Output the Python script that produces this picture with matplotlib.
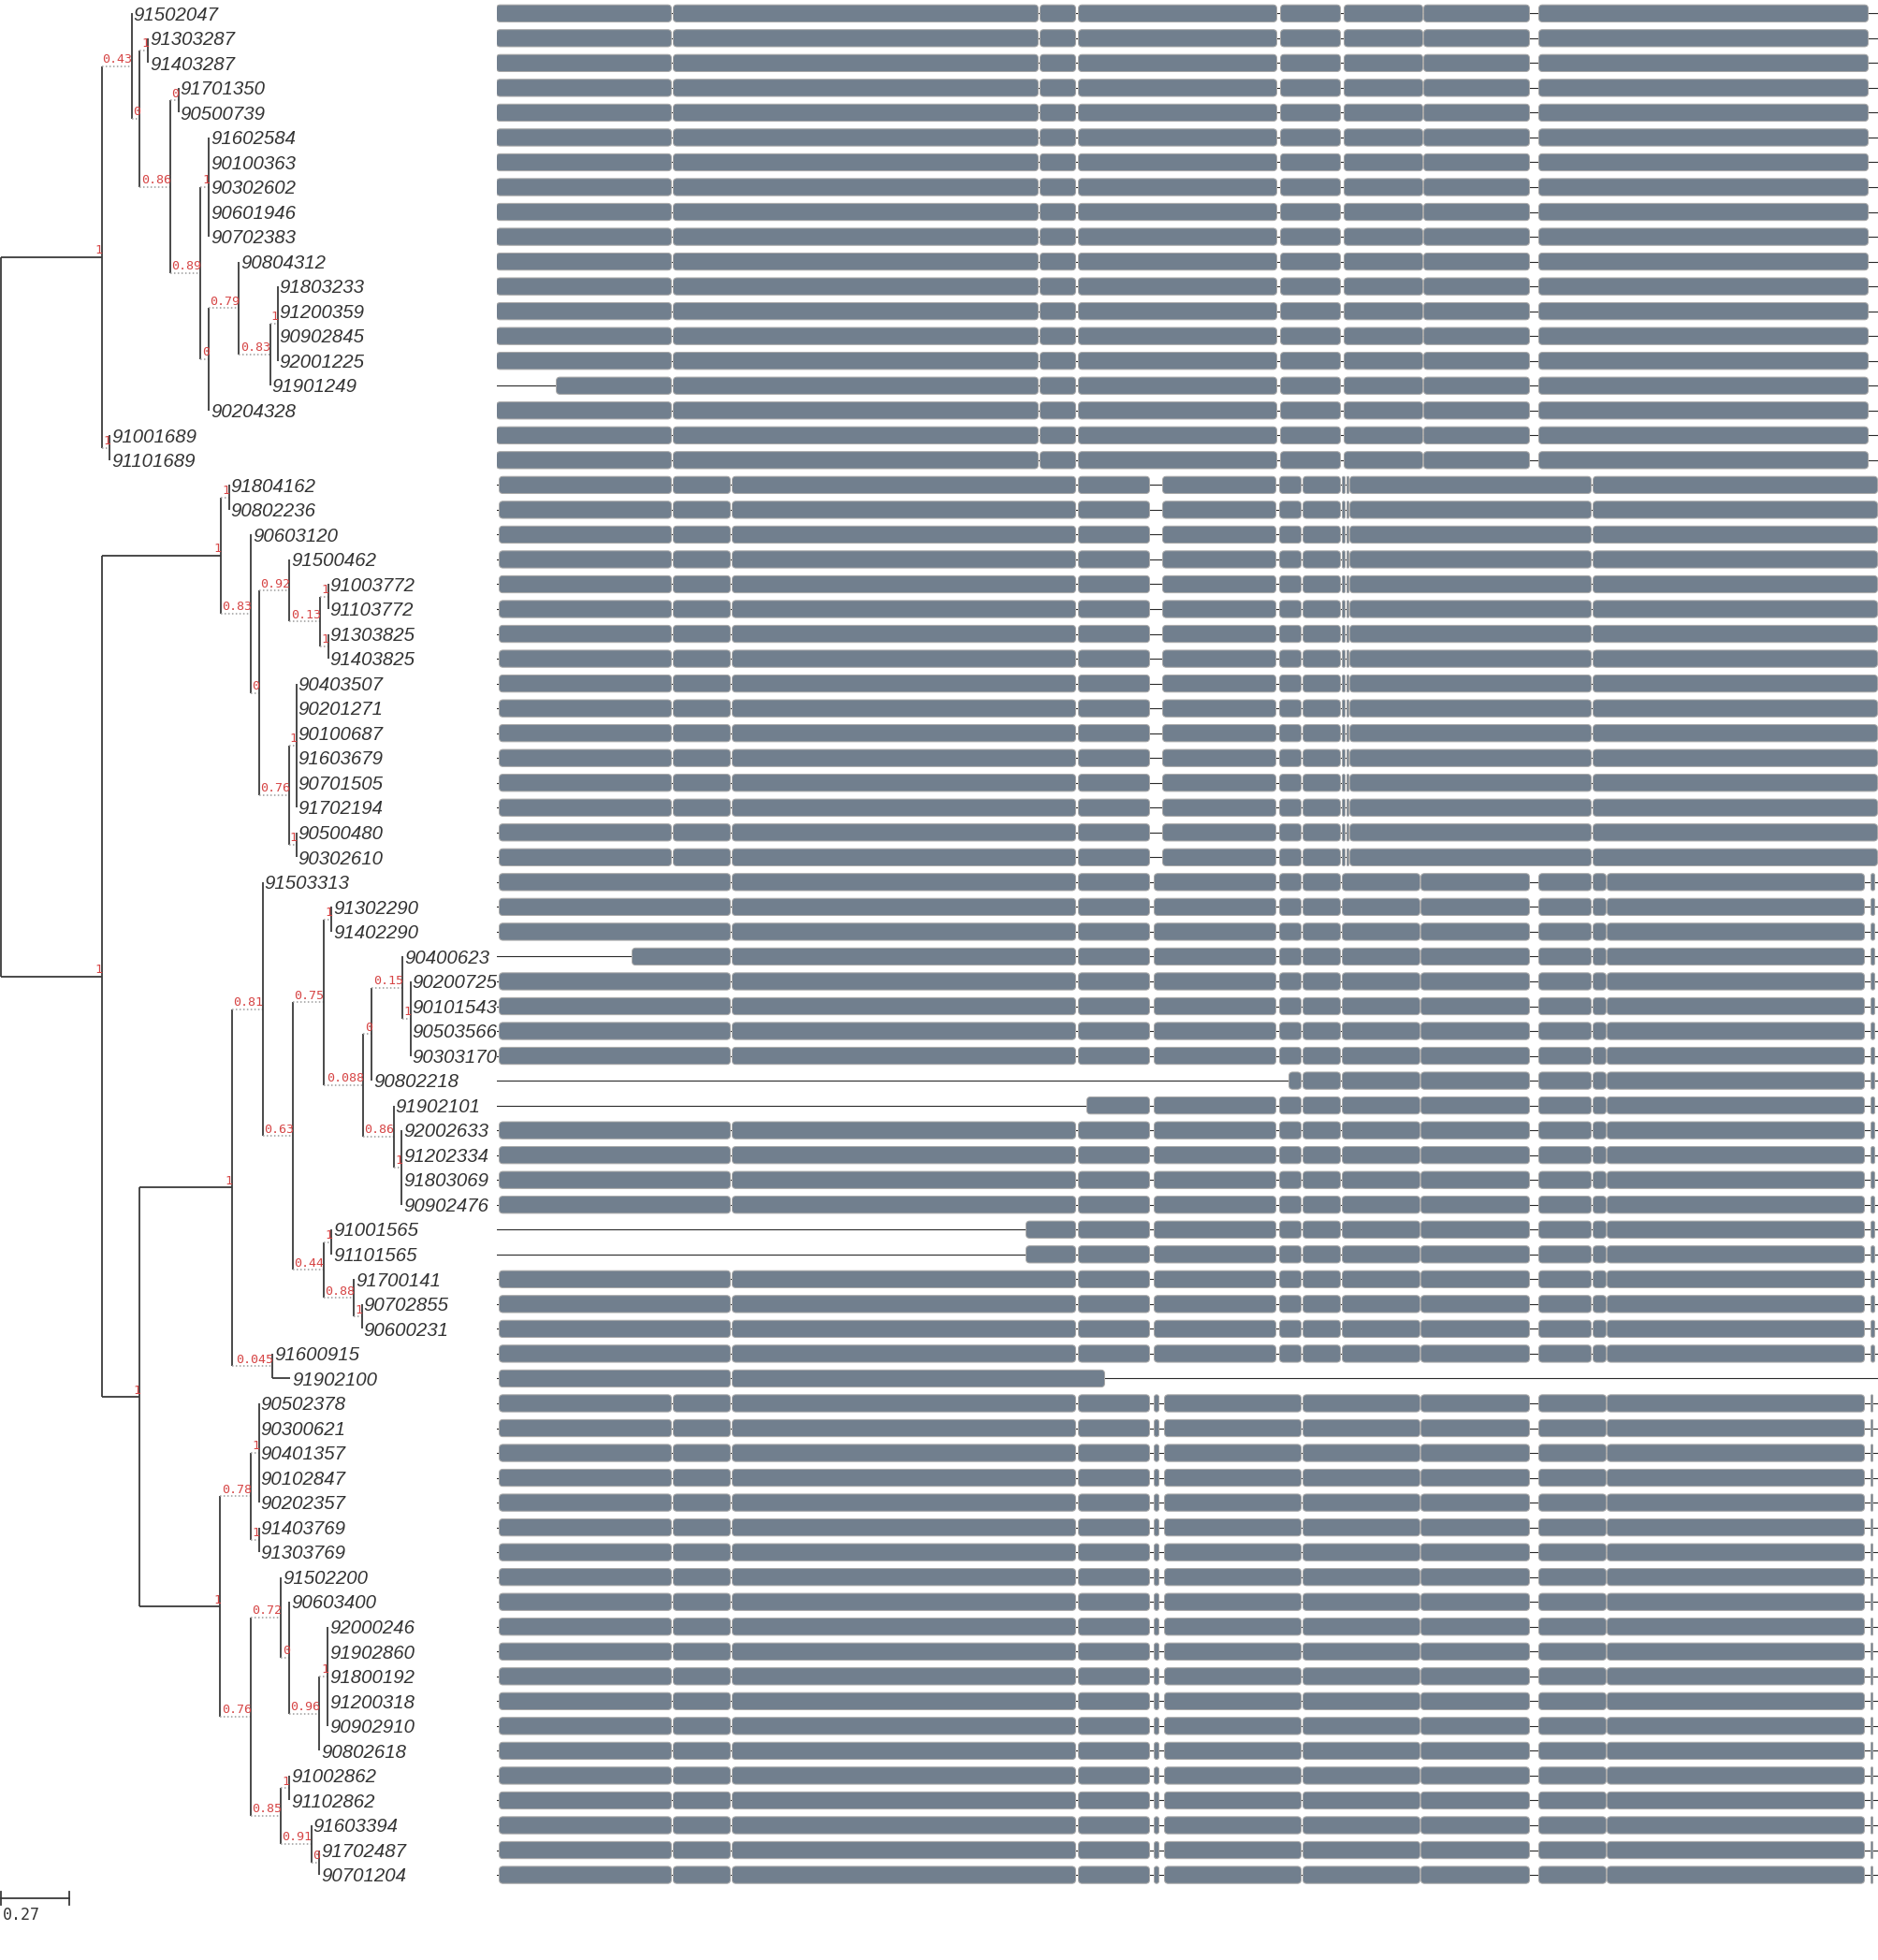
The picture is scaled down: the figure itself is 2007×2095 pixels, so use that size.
import matplotlib
matplotlib.use("Agg")
import matplotlib.pyplot as plt
from matplotlib.patches import FancyBboxPatch

# --- TREE DATA: one newick per clade, node label = support ---
clade_a = ("((91502047:0,((91303287:0,91403287:0)1:0.034,((91701350:0,90500739:0)0:0.032,"
           "((91602584:0,90100363:0,90302602:0,90601946:0,90702383:0)1:0.033,"
           "((90804312:0,((91803233:0,91200359:0,90902845:0,92001225:0)1:0.030,91901249:0)0.83:0.122)0.79:0.119,"
           "90204328:0)0:0.033)0.89:0.119)0.86:0.120)0:0.032)0.43:0.118,(91001689:0,91101689:0)1:0.032)1")
clade_b = ("((91804162:0,90802236:0)1:0.032,(90603120:0,((91500462:0,((91003772:0,91103772:0)1:0.032,"
           "(91303825:0,91403825:0)1:0.032)0.13:0.122)0.92:0.119,((90403507:0,90201271:0,90100687:0,"
           "91603679:0,90701505:0,91702194:0)1:0.029,(90500480:0,90302610:0)1:0.029)0.76:0.119)0:0.032)0.83:0.118)1")
clade_c = ("((91503313:0,(((91302290:0,91402290:0)1:0.032,(((90400623:0,(90200725:0,90101543:0,90503566:0,"
           "90303170:0)1:0.032)0.15:0.121,90802218:0)0:0.032,(91902101:0,(92002633:0,91202334:0,91803069:0,"
           "90902476:0)1:0.032)0.86:0.119)0.088:0.158)0.75:0.118,((91001565:0,91101565:0)1:0.032,"
           "(91700141:0,(90702855:0,90600231:0)1:0.031)0.88:0.120)0.44:0.118)0.63:0.121)0.81:0.120,"
           "(91600915:0,91902100:0.070)0.045:0.159)1")
clade_d = ("(((90502378:0,90300621:0,90401357:0,90102847:0,90202357:0)1:0.032,(91403769:0,91303769:0)1:0.032)0.78:0.120,"
           "((91502200:0,(90603400:0,((92000246:0,91902860:0,91800192:0,91200318:0,90902910:0)1:0.032,"
           "90802618:0)0.96:0.120)0:0.032)0.72:0.119,((91002862:0,91102862:0)1:0.032,(91603394:0,"
           "(91702487:0,90701204:0)0:0.032)0.91:0.120)0.85:0.119)0.76:0.120)1")

# backbone stems (solid branches)
stem_len = {"A": 0.396, "BCD": 0.396, "B": 0.469, "CD": 0.150, "C": 0.364, "D": 0.317}
stem_support = {"BCD": "1", "CD": "1"}
scale_bar = 0.27

# --- ALIGNMENT DATA (block start/end along the alignment) ---
align_len = 1476
blocks_a = [(0, 187), (189, 579), (581, 619), (622, 834), (838, 902), (906, 990), (991, 1104), (1114, 1466)]
blocks_b = [(3, 187), (189, 250), (252, 619), (622, 698), (712, 833), (837, 860), (862, 902),
            (904, 907), (909, 911), (912, 1170), (1172, 1476)]
blocks_c = [(3, 250), (252, 619), (622, 698), (703, 833), (837, 860), (862, 902), (904, 987),
            (988, 1104), (1114, 1170), (1172, 1186), (1187, 1462), (1469, 1473)]
blocks_d = [(3, 187), (189, 250), (252, 619), (622, 698), (703, 708), (714, 860), (862, 987),
            (988, 1104), (1114, 1186), (1187, 1462), (1469, 1471)]
group_blocks = [blocks_a, blocks_b, blocks_c, blocks_d]
special_blocks = {
    "91901249": [(64, 187)] + blocks_a[1:],
    "90400623": [(145, 250)] + blocks_c[1:],
    "90802218": [(847, 860)] + blocks_c[5:],
    "91902101": [(631, 698)] + blocks_c[3:],
    "91001565": [(566, 619)] + blocks_c[2:],
    "91101565": [(566, 619)] + blocks_c[2:],
    "91902100": [(3, 250), (252, 650)],
}

# --- LAYOUT (pixels) ---
W, H = 2007, 2095
row0, pitch = 14.3, 26.53
px_per_unit = 271.5
tree_right = 530.5
line_col = "#3a3a3a"
red = "#d64545"


def parse_newick(s):
    pos = 0

    def read():
        nonlocal pos
        kids = []
        if s[pos] == "(":
            pos += 1
            while True:
                kids.append(read())
                ch = s[pos]
                pos += 1
                if ch == ")":
                    break
        start = pos
        while pos < len(s) and s[pos] not in ",():":
            pos += 1
        name = s[start:pos]
        length = 0.0
        if pos < len(s) and s[pos] == ":":
            pos += 1
            start = pos
            while pos < len(s) and s[pos] not in ",()":
                pos += 1
            length = float(s[start:pos])
        return {"name": name, "len": length, "kids": kids, "solid": not kids}

    return read()


def stem(node, key):
    node["len"] = stem_len[key]
    node["solid"] = True
    return node


A = stem(parse_newick(clade_a), "A")
B = stem(parse_newick(clade_b), "B")
C = stem(parse_newick(clade_c), "C")
D = stem(parse_newick(clade_d), "D")
cd = {"name": stem_support["CD"], "len": stem_len["CD"], "kids": [C, D], "solid": True}
bcd = {"name": stem_support["BCD"], "len": stem_len["BCD"], "kids": [B, cd], "solid": True}
root = {"name": "", "len": 0.0, "kids": [A, bcd], "solid": True}

leaves = []


def layout(node, x0):
    node["x0"] = x0
    node["x"] = x0 + node["len"]
    if not node["kids"]:
        node["y"] = len(leaves)
        leaves.append(node)
    else:
        for k in node["kids"]:
            layout(k, node["x"])
        node["y"] = (node["kids"][0]["y"] + node["kids"][-1]["y"]) / 2


layout(root, 0.0)

fig = plt.figure(figsize=(W / 100, H / 100), dpi=100)
ylim = ((H - row0) / pitch, -row0 / pitch)

ax = fig.add_axes([0, 0, tree_right / W, 1])
ax.set_xlim(-1 / px_per_unit, (tree_right - 1) / px_per_unit)
ax.set_ylim(ylim)
ax.axis("off")


def draw(node):
    x, y = node["x"], node["y"]
    if node is not root and node["len"] > 0:
        if node["solid"]:
            ax.plot([node["x0"], x], [y, y], color=line_col, lw=1.3, solid_capstyle="butt")
        else:
            ax.plot([node["x0"], x], [y, y], color="#9a9a9a", lw=1.1, linestyle=(0, (1, 1.6)))
    if node["kids"]:
        ax.plot([x, x], [node["kids"][0]["y"], node["kids"][-1]["y"]], color=line_col, lw=1.3,
                solid_capstyle="butt")
        for k in node["kids"]:
            draw(k)
        if node["name"]:
            ax.annotate(node["name"], (x, y), xytext=(0.6, 2.6), textcoords="offset points",
                        ha="right", va="baseline", family="DejaVu Sans Mono", fontsize=9.6, color=red)
    else:
        ax.annotate(node["name"], (x, y), xytext=(1.4, -5.2), textcoords="offset points",
                    ha="left", va="baseline", family="Liberation Sans", fontstyle="italic",
                    fontsize=14.7, color="#333333", annotation_clip=False)


draw(root)

# scale bar
n = len(leaves)
yb = n - 1 + 0.94
tick = 7 / pitch
ax.plot([0, scale_bar], [yb, yb], color=line_col, lw=1.3, clip_on=False)
for xb in (0, scale_bar):
    ax.plot([xb, xb], [yb - tick, yb + tick], color=line_col, lw=1.3, clip_on=False)
ax.annotate(f"{scale_bar:g}", (0, yb + 0.68), xytext=(1.5, 0), textcoords="offset points",
            ha="left", va="center", family="DejaVu Sans Mono", fontsize=12, color="#333333",
            annotation_clip=False)

# --- ALIGNMENT PANEL ---
ax2 = fig.add_axes([tree_right / W, 0, (W - tree_right) / W, 1])
ax2.set_xlim(0, align_len + 0.5)
ax2.set_ylim(ylim)
ax2.patch.set_alpha(0)
ax2.axis("off")

bh = 18.3 / pitch
group_sizes = [19, 16, 21, 20]
row_groups = [g for g, size in enumerate(group_sizes) for _ in range(size)]
for i, leaf in enumerate(leaves):
    blocks = special_blocks.get(leaf["name"], group_blocks[row_groups[i]])
    ax2.plot([0, align_len + 0.5], [i, i], color="#2a2a2a", lw=0.8, zorder=1)
    for s, e in blocks:
        r = min(4.0, (e - s) / 2)
        ax2.add_patch(FancyBboxPatch((s, i - bh / 2), e - s, bh,
                                     boxstyle=f"round,pad=0,rounding_size={r}",
                                     mutation_aspect=1 / pitch, facecolor="#717f8e",
                                     edgecolor="#a9a9a9", lw=0.7, zorder=2))

fig.savefig("out.png", dpi=100)
